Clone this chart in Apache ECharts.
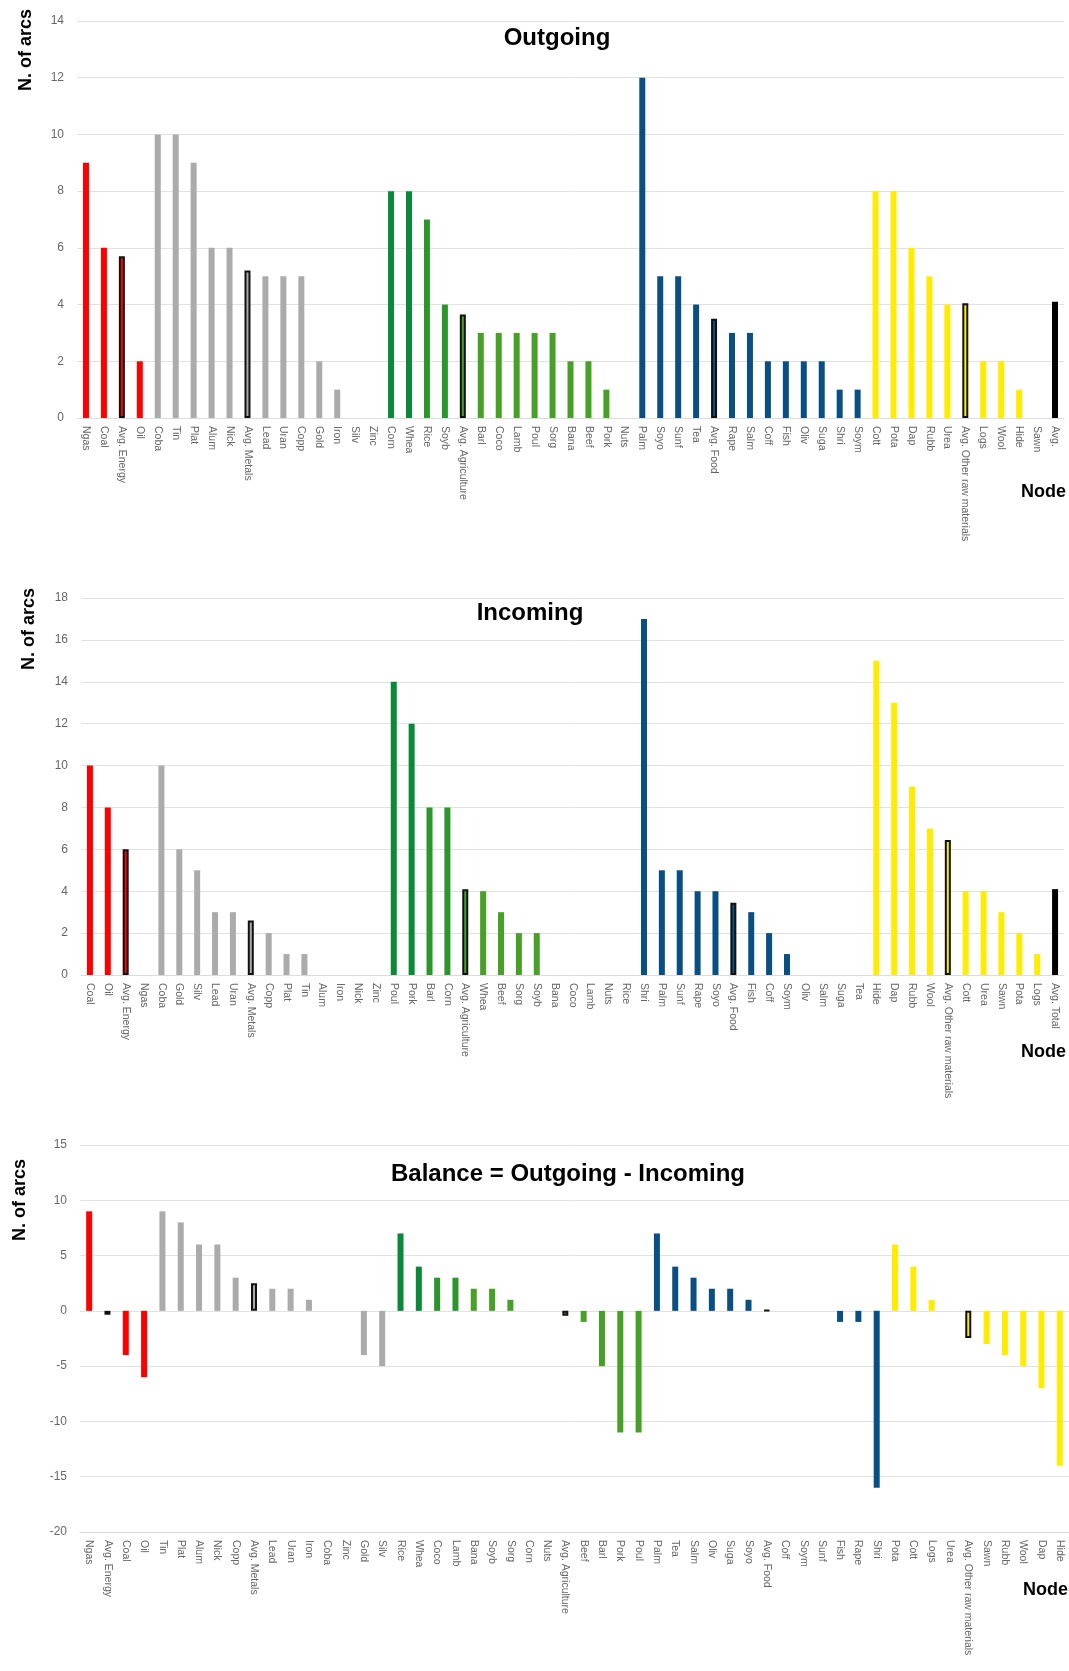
<!DOCTYPE html>
<html>
<head>
<meta charset="utf-8">
<script src="https://cdn.jsdelivr.net/npm/echarts@6/dist/echarts.min.js"></script>
<style>
  html, body { margin: 0; padding: 0; background: #fff; }
  #chart { width: 1069px; height: 1671px; }
</style>
</head>
<body>
<div id="chart"></div>
<script>
// Outgoing
const outNodes = ["Ngas", "Coal", "Avg. Energy", "Oil", "Coba", "Tin", "Plat", "Alum", "Nick", "Avg. Metals", "Lead", "Uran", "Copp", "Gold", "Iron", "Silv", "Zinc", "Corn", "Whea", "Rice", "Soyb", "Avg. Agriculture", "Barl", "Coco", "Lamb", "Poul", "Sorg", "Bana", "Beef", "Pork", "Nuts", "Palm", "Soyo", "Sunf", "Tea", "Avg. Food", "Rape", "Salm", "Coff", "Fish", "Oliv", "Suga", "Shri", "Soym", "Cott", "Pota", "Dap", "Rubb", "Urea", "Avg. Other raw materials", "Logs", "Wool", "Hide", "Sawn", "Avg."];
const outArcs = [9, 6, 5.7, 2, 10, 10, 9, 6, 6, 5.2, 5, 5, 5, 2, 1, 0, 0, 8, 8, 7, 4, 3.65, 3, 3, 3, 3, 3, 2, 2, 1, 0, 12, 5, 5, 4, 3.5, 3, 3, 2, 2, 2, 2, 1, 1, 8, 8, 6, 5, 4, 4.05, 2, 2, 1, 0, 4.1];

// Incoming
const inNodes = ["Coal", "Oil", "Avg. Energy", "Ngas", "Coba", "Gold", "Silv", "Lead", "Uran", "Avg. Metals", "Copp", "Plat", "Tin", "Alum", "Iron", "Nick", "Zinc", "Poul", "Pork", "Barl", "Corn", "Avg. Agriculture", "Whea", "Beef", "Sorg", "Soyb", "Bana", "Coco", "Lamb", "Nuts", "Rice", "Shri", "Palm", "Sunf", "Rape", "Soyo", "Avg. Food", "Fish", "Coff", "Soym", "Oliv", "Salm", "Suga", "Tea", "Hide", "Dap", "Rubb", "Wool", "Avg. Other raw materials", "Cott", "Urea", "Sawn", "Pota", "Logs", "Avg. Total"];
const inArcs = [10, 8, 6, 0, 10, 6, 5, 3, 3, 2.6, 2, 1, 1, 0, 0, 0, 0, 14, 12, 8, 8, 4.1, 4, 3, 2, 2, 0, 0, 0, 0, 0, 17, 5, 5, 4, 4, 3.45, 3, 2, 1, 0, 0, 0, 0, 15, 13, 9, 7, 6.45, 4, 4, 3, 2, 1, 4.1];

// Balance = Outgoing - Incoming
const balNodes = ["Ngas", "Avg. Energy", "Coal", "Oil", "Tin", "Plat", "Alum", "Nick", "Copp", "Avg. Metals", "Lead", "Uran", "Iron", "Coba", "Zinc", "Gold", "Silv", "Rice", "Whea", "Coco", "Lamb", "Bana", "Soyb", "Sorg", "Corn", "Nuts", "Avg. Agriculture", "Beef", "Barl", "Pork", "Poul", "Palm", "Tea", "Salm", "Oliv", "Suga", "Soyo", "Avg. Food", "Coff", "Soym", "Sunf", "Fish", "Rape", "Shri", "Pota", "Cott", "Logs", "Urea", "Avg. Other raw materials", "Sawn", "Rubb", "Wool", "Dap", "Hide"];
const balArcs = [9, -0.35, -4, -6, 9, 8, 6, 6, 3, 2.5, 2, 2, 1, 0, 0, -4, -5, 7, 4, 3, 3, 2, 2, 1, 0, 0, -0.45, -1, -5, -11, -11, 7, 4, 3, 2, 2, 1, 0.05, 0, 0, 0, -1, -1, -16, 6, 4, 1, 0, -2.45, -3, -4, -5, -7, -14];

// commodity groups
const energy = ["Ngas", "Coal", "Oil", "Avg. Energy"];
const metals = ["Coba", "Tin", "Plat", "Alum", "Nick", "Lead", "Uran", "Copp", "Gold", "Iron", "Silv", "Zinc", "Avg. Metals"];
const agriculture = ["Corn", "Whea", "Rice", "Soyb", "Barl", "Coco", "Lamb", "Poul", "Sorg", "Bana", "Beef", "Pork", "Nuts", "Avg. Agriculture"];
const food = ["Palm", "Soyo", "Sunf", "Tea", "Rape", "Salm", "Coff", "Fish", "Oliv", "Suga", "Shri", "Soym", "Avg. Food"];
const rawMaterials = ["Cott", "Pota", "Dap", "Rubb", "Urea", "Logs", "Wool", "Hide", "Sawn", "Avg. Other raw materials"];

const FONT = "'Liberation Sans', Arial, Helvetica, sans-serif";
const greens = ["#0a8a38", "#0a8a38", "#2b962c", "#2b962c", "#46a126"];

function barData(names, values) {
  let g = 0;
  return names.map((n, i) => {
    let color = "#000";
    if (energy.includes(n)) color = "#ff0000";
    else if (metals.includes(n)) color = "#ababab";
    else if (agriculture.includes(n)) {
      color = greens[Math.min(g, 4)];
      if (!n.startsWith("Avg")) g++;
    }
    else if (food.includes(n)) color = "#0a4f84";
    else if (rawMaterials.includes(n)) color = "#ffec00";
    const isAvg = n.startsWith("Avg") && color !== "#000";
    return {
      value: values[i],
      itemStyle: isAvg ? { color: color, borderColor: "#111", borderWidth: 2 } : { color: color }
    };
  });
}

const grids = [
  { left: 77, right: 5, top: 21, height: 397 },
  { left: 81, right: 5, top: 598, height: 377 },
  { left: 80, right: 0, top: 1145, height: 387 }
];
const cats = [outNodes, inNodes, balNodes];
const vals = [outArcs, inArcs, balArcs];
const yRanges = [[0, 14, 2], [0, 18, 2], [-20, 15, 5]];

const chart = echarts.init(document.getElementById("chart"));

function txt(text, x, y, size, opts) {
  return Object.assign({
    type: "text", x: x, y: y,
    style: { text: text, font: "bold " + size + "px " + FONT, fill: "#000", align: "center", verticalAlign: "middle" }
  }, opts || {});
}

const nodeStyle = { text: "Node", font: "bold 18px " + FONT, fill: "#000", align: "right", verticalAlign: "middle" };

const option = {
  animation: false,
  backgroundColor: "#fff",
  grid: grids,
  xAxis: cats.map((c, i) => ({
    type: "category", gridIndex: i, data: c,
    axisTick: { show: false },
    axisLine: { onZero: false, lineStyle: { color: "#dcdcdc" } },
    axisLabel: { interval: 0, rotate: -90, fontSize: 10.5, color: "#666", margin: 8, fontFamily: FONT }
  })),
  yAxis: yRanges.map((r, i) => ({
    type: "value", gridIndex: i, min: r[0], max: r[1], interval: r[2],
    axisLine: { show: false }, axisTick: { show: false },
    splitLine: { lineStyle: { color: "#e2e2e2" } },
    axisLabel: { color: "#666", fontSize: 12, margin: 13, fontFamily: FONT }
  })),
  series: cats.map((c, i) => ({
    type: "bar", xAxisIndex: i, yAxisIndex: i, barWidth: 6,
    data: barData(c, vals[i])
  })),
  graphic: [
    txt("Outgoing", 557, 38, 24),
    txt("Incoming", 530, 613, 24),
    txt("Balance = Outgoing - Incoming", 568, 1174, 24),
    txt("N. of arcs", 26, 50, 18, { rotation: Math.PI / 2 }),
    txt("N. of arcs", 29, 629, 18, { rotation: Math.PI / 2 }),
    txt("N. of arcs", 20, 1200, 18, { rotation: Math.PI / 2 }),
    txt("Node", 1066, 492, 18, { style: nodeStyle }),
    txt("Node", 1066, 1052, 18, { style: nodeStyle }),
    txt("Node", 1068, 1590, 18, { style: nodeStyle })
  ]
};

chart.setOption(option);
</script>
</body>
</html>
